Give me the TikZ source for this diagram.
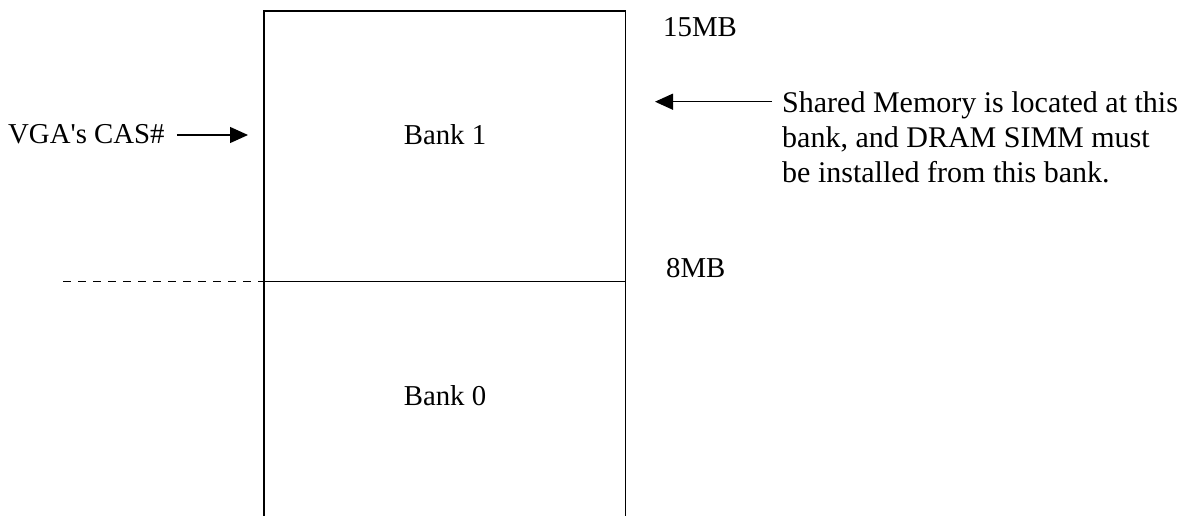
\documentclass[tikz,border=0pt]{standalone}
\usepackage{fontspec}
\setmainfont{Liberation Serif}
\usetikzlibrary{arrows.meta}
\begin{document}
\begin{tikzpicture}[x=1pt,y=-1pt,
  lbl/.style={inner sep=0pt, font=\fontsize{28.8}{35}\selectfont},
  biglbl/.style={inner sep=0pt, font=\fontsize{30}{35}\selectfont},
  edge/.style={line width=1.3pt, line cap=rect},
  dashedge/.style={line width=1.3pt, dash pattern=on 8pt off 7pt},
  arr/.style={line width=1.3pt, -{Triangle[length=18pt,width=16pt]}}]
\useasboundingbox (0,0) rectangle (1188,516);
% box corners
\coordinate (tl) at (264,11);
\coordinate (tr) at (625.7,11);
\coordinate (ml) at (264,281.5);
\coordinate (mr) at (625.7,281.5);
\coordinate (bl) at (264,516);
\coordinate (br) at (625.7,516);
\coordinate (dashstart) at (63,281.5);
\draw[edge] (bl) -- (tl) -- (tr) -- (br);
\draw[edge] (ml) -- (mr);
\draw[dashedge] (dashstart) -- (ml);
% labels
\node[lbl, anchor=base] (bank1) at (445,145) {Bank 1};
\node[lbl, anchor=base] (bank0) at (445,405) {Bank 0};
\node[lbl, anchor=base west] (mb15) at (663,37) {15MB};
\node[lbl, anchor=base west] (mb8) at (666,277) {8MB};
\node[lbl, anchor=base west] (vga) at (8,143) {VGA\textquotesingle s CAS\#};
\node[biglbl, anchor=north west, align=left] (shared) at (782,91)
  {Shared Memory is located at this\\bank, and DRAM SIMM must\\be installed from this bank.};
% arrows
\coordinate (vgaend) at (248,135);
\coordinate (sharedend) at (655,101.7);
\draw[arr] (vga.east |- vgaend) ++(12,0) -- (vgaend);
\draw[arr] (shared.west |- sharedend) ++(-10,0) -- (sharedend);
\end{tikzpicture}
\end{document}
